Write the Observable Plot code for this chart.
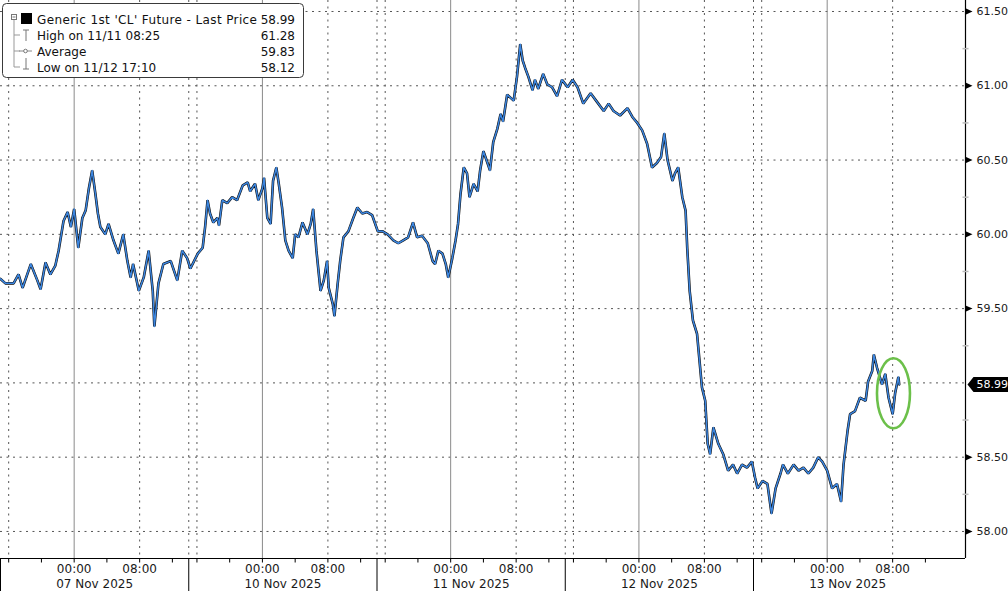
<!DOCTYPE html>
<html><head><meta charset="utf-8">
<script src="https://cdn.jsdelivr.net/npm/d3@7"></script>
<script src="https://cdn.jsdelivr.net/npm/@observablehq/plot@0.6"></script>
<style>
body{margin:0;background:#fff;}
#wrap{position:relative;width:1008px;height:591px;overflow:hidden;}
#legend{position:absolute;left:2px;top:3px;font-family:"DejaVu Sans",sans-serif;font-size:12px;}
</style></head><body>
<div id="wrap"><div id="chart"></div>
<svg id="legend" width="303" height="76">
  <rect x="0.5" y="0.5" width="301" height="74" rx="4" ry="4" fill="#fff" stroke="#3a3a3a"/>
  <rect x="9.5" y="11.5" width="5" height="5" fill="none" stroke="#777"/>
  <line x1="10.5" y1="14" x2="13.5" y2="14" stroke="#777"/>
  <rect x="19" y="10" width="11" height="11" fill="#000"/>
  <path d="M12 17V64M12 32H18M12 48H18M12 64H18" stroke="#999" fill="none"/>
  <path d="M21 27H27M24 27V38" stroke="#777" fill="none"/>
  <path d="M17 48H30" stroke="#888" fill="none"/><circle cx="23.5" cy="48" r="1.8" fill="#fff" stroke="#777"/>
  <path d="M24 55V66M21 66H27" stroke="#777" fill="none"/>
  <g fill="#111">
    <text x="35" y="20.5" textLength="220">Generic 1st 'CL' Future - Last Price</text>
    <text x="35" y="36.5">High on 11/11 08:25</text>
    <text x="35" y="52.5">Average</text>
    <text x="35" y="68.5">Low on 11/12 17:10</text>
    <text x="293" y="20.5" text-anchor="end">58.99</text>
    <text x="293" y="36.5" text-anchor="end">61.28</text>
    <text x="293" y="52.5" text-anchor="end">59.83</text>
    <text x="293" y="68.5" text-anchor="end">58.12</text>
  </g>
</svg></div>
<script>
// ---- data ----
const sessions = ["07 Nov 2025", "10 Nov 2025", "11 Nov 2025", "12 Nov 2025", "13 Nov 2025"];
const sessionHours = 23;               // trading hours per session
const hourTickLabels = ["00:00", "08:00"];
const hourTickOffsets = [9, 17];       // hours after session open
const dottedOffsets = [1, 17];         // 16:00 and 08:00 grid lines
const minorTickOffsets = [1, 5, 9, 13, 17, 21];
const yTicks = [58, 58.5, 59, 59.5, 60, 60.5, 61, 61.5];
const yMinorTicks = [58.25, 58.75, 59.25, 59.75, 60.25, 60.75, 61.25];
const lastPrice = 58.99;

// hours since 07 Nov session open (trading time) and price
const hours = [
 0.0,0.6,1.6,2.2,2.7,3.7,4.5,4.9,5.5,6.1,6.7,7.1,7.7,8.2,8.6,9.0,9.5,10.0,10.4,10.8,11.2,11.6,11.9,12.2,12.8,13.2,13.8,14.4,15.0,15.5,15.9,16.2,16.9,17.5,18.1,18.6,18.8,19.3,19.9,20.8,21.6,22.2,22.8,
 23.2,24.1,24.7,25.0,25.3,25.6,26.0,26.5,26.7,27.1,27.7,28.3,28.9,29.6,30.2,30.5,31.1,31.5,32.0,32.2,32.6,33.0,33.3,33.7,34.0,34.4,34.8,35.2,35.7,36.0,36.4,36.9,37.5,37.9,38.2,38.6,39.1,39.5,39.9,40.1,40.6,40.8,41.2,41.5,41.9,42.5,43.1,43.6,44.2,44.8,45.4,
 46.1,46.7,47.3,48.0,48.6,49.2,49.8,50.4,50.9,51.5,52.2,52.8,53.1,53.5,54.0,54.4,54.7,55.2,55.6,55.9,56.2,56.6,57.0,57.3,57.8,58.3,58.6,59.0,59.5,59.8,60.2,60.7,61.1,61.4,61.9,62.3,62.7,63.1,63.5,63.8,64.1,64.5,65.0,65.3,65.7,66.3,66.8,67.4,68.0,68.6,
 69.3,69.9,70.5,71.2,72.1,72.9,73.7,74.3,74.9,75.7,76.6,77.2,77.8,78.4,79.0,79.6,80.2,80.7,81.1,81.5,82.1,82.4,82.8,83.3,83.7,83.9,84.2,84.6,85.1,85.4,85.7,86.1,86.4,86.7,87.1,87.7,88.3,88.9,89.5,90.0,90.6,91.2,91.8,
 92.2,92.5,93.1,93.7,94.2,94.7,95.3,95.6,96.2,96.9,97.5,98.1,98.7,99.3,99.9,100.4,101.0,101.6,102.2,102.7,103.0,103.5,103.8,104.4,105.0,105.7,106.0,106.5,106.7,107.1,107.7,108.1,108.5,109.0,109.3,109.7,109.8
];
const prices = [
 59.70,59.67,59.67,59.73,59.64,59.80,59.69,59.63,59.81,59.73,59.79,59.89,60.09,60.15,60.05,60.17,59.91,60.11,60.16,60.31,60.43,60.27,60.14,60.05,60.00,60.07,59.96,59.87,60.00,59.82,59.71,59.80,59.62,59.71,59.89,59.62,59.38,59.67,59.80,59.82,59.69,59.89,59.84,
 59.77,59.87,59.91,60.05,60.23,60.14,60.08,60.11,60.06,60.23,60.21,60.25,60.23,60.33,60.35,60.29,60.34,60.23,60.31,60.38,60.11,60.07,60.36,60.45,60.34,60.18,59.96,59.89,59.84,60.00,59.98,60.08,60.00,60.07,60.17,59.89,59.62,59.69,59.82,59.64,59.53,59.45,59.67,59.82,59.98,60.02,60.11,60.18,60.14,60.15,60.13,
 60.02,60.02,60.00,59.96,59.94,59.96,59.98,60.08,59.98,59.99,59.94,59.82,59.80,59.89,59.87,59.80,59.71,59.84,59.96,60.07,60.27,60.45,60.41,60.25,60.34,60.29,60.43,60.56,60.48,60.43,60.62,60.71,60.81,60.76,60.94,60.92,60.90,61.06,61.28,61.17,61.12,61.06,60.97,61.04,60.98,61.08,61.01,60.99,60.93,61.04,
 60.99,61.04,60.99,60.88,60.95,60.89,60.83,60.88,60.83,60.80,60.85,60.79,60.75,60.70,60.61,60.45,60.48,60.52,60.68,60.50,60.36,60.41,60.45,60.25,60.16,59.91,59.62,59.42,59.33,59.15,58.97,58.88,58.59,58.52,58.70,58.59,58.52,58.41,58.45,58.39,58.45,58.43,58.47,
 58.36,58.29,58.34,58.32,58.12,58.29,58.39,58.45,58.39,58.45,58.41,58.43,58.39,58.43,58.50,58.47,58.41,58.29,58.32,58.20,58.45,58.68,58.79,58.81,58.90,58.88,59.01,59.08,59.19,59.10,58.99,59.06,58.90,58.79,58.93,59.04,58.99
];
const highlight = {h: 109.1, p: 58.93};

// ---- derived ----
const data = hours.map((h, i) => ({h, p: prices[i]}));
const xMax = 117.9, yMin = 57.818, yMax = 61.574;
const sIdx = d3.range(sessions.length);
const boundaries = sIdx.filter(s => s > 0).map(s => s * sessionHours);
const dottedX = [...boundaries, ...sIdx.flatMap(s => dottedOffsets.map(o => s * sessionHours + o))];
const solidX = sIdx.map(s => s * sessionHours + hourTickOffsets[0]);
const minorX = sIdx.flatMap(s => minorTickOffsets.map(o => s * sessionHours + o));
const hourLabels = sIdx.flatMap(s => hourTickOffsets.map((o, j) => ({h: s * sessionHours + o, label: hourTickLabels[j]})));
const dateLabels = sessions.map((d, s) => ({h: s * sessionHours + sessionHours / 2, label: d}));
const labelTicks = yTicks.filter(t => Math.abs(t - lastPrice) > 0.05);

const sym = (fn) => ({draw(ctx) { fn(ctx); }});
const tickDown = (len) => sym(c => { c.moveTo(0, 0); c.lineTo(0, len); });
const triRight = sym(c => { c.moveTo(0, -3.2); c.lineTo(7, 0); c.lineTo(0, 3.2); c.closePath(); });
const hDash = sym(c => { c.moveTo(-3, 0); c.lineTo(3, 0); });
const priceBox = sym(c => { c.moveTo(2, 0); c.lineTo(8, -7.5); c.lineTo(43, -7.5); c.lineTo(43, 7.5); c.lineTo(8, 7.5); c.closePath(); });
const ellipse = (rx, ry) => sym(c => {
  const k = 0.5523;
  c.moveTo(rx, 0);
  c.bezierCurveTo(rx, ry * k, rx * k, ry, 0, ry);
  c.bezierCurveTo(-rx * k, ry, -rx, ry * k, -rx, 0);
  c.bezierCurveTo(-rx, -ry * k, -rx * k, -ry, 0, -ry);
  c.bezierCurveTo(rx * k, -ry, rx, -ry * k, rx, 0);
  c.closePath();
});

const chart = Plot.plot({
  width: 1008, height: 591,
  marginLeft: 0, marginRight: 43, marginTop: 0, marginBottom: 33,
  style: {fontFamily: "DejaVu Sans, sans-serif", fontSize: "12px", background: "#fff", color: "#1a1a1a"},
  x: {domain: [0, xMax], axis: null},
  y: {domain: [yMin, yMax], axis: null},
  marks: [
    Plot.ruleY(yTicks, {stroke: "#555", strokeDasharray: "2,4.5", strokeWidth: 1}),
    Plot.ruleX(dottedX, {stroke: "#555", strokeDasharray: "2,4.5", strokeWidth: 1}),
    Plot.ruleX(solidX, {stroke: "#8a8a8a", strokeWidth: 1}),
    Plot.line(data, {x: "h", y: "p", stroke: "#0d0d0d", strokeWidth: 2.6, strokeLinejoin: "miter"}),
    Plot.line(data, {x: "h", y: "p", stroke: "#3c86e0", strokeWidth: 1.5}),
    Plot.ruleX([xMax], {stroke: "#000", strokeWidth: 1.2}),
    Plot.ruleY([yMin], {stroke: "#000", strokeWidth: 1.2}),
    Plot.dot(minorX, {x: d => d, y: () => yMin, symbol: tickDown(4), stroke: "#000", fill: "none", strokeWidth: 1}),
    Plot.dot([0, ...boundaries], {x: d => d, y: () => yMin, symbol: tickDown(33), stroke: "#000", fill: "none", strokeWidth: 1}),
    Plot.text(hourLabels, {x: "h", y: () => yMin, text: "label", dy: 11, fill: "#1a1a1a", fontSize: 12}),
    Plot.text(dateLabels, {x: "h", y: () => yMin, text: "label", dy: 26, fill: "#1a1a1a", fontSize: 12}),
    Plot.dot(yMinorTicks, {x: () => xMax, y: d => d, symbol: hDash, stroke: "#bbb", fill: "none"}),
    Plot.dot(labelTicks, {x: () => xMax, y: d => d, symbol: triRight, fill: "#000", stroke: "none"}),
    Plot.text(labelTicks, {x: () => xMax, y: d => d, text: d => d.toFixed(2), textAnchor: "start", dx: 11, fill: "#1a1a1a", fontSize: 11}),
    Plot.dot([lastPrice], {x: () => xMax, y: d => d, symbol: priceBox, fill: "#000", stroke: "none"}),
    Plot.text([lastPrice], {x: () => xMax, y: d => d, text: d => d.toFixed(2), textAnchor: "start", dx: 11, fill: "#fff", fontSize: 11}),
    Plot.dot([highlight], {x: "h", y: "p", symbol: ellipse(16.5, 35), stroke: "#6cc04a", strokeWidth: 2.6, fill: "none"})
  ]
});
document.getElementById("chart").appendChild(chart);
</script>
</body></html>
